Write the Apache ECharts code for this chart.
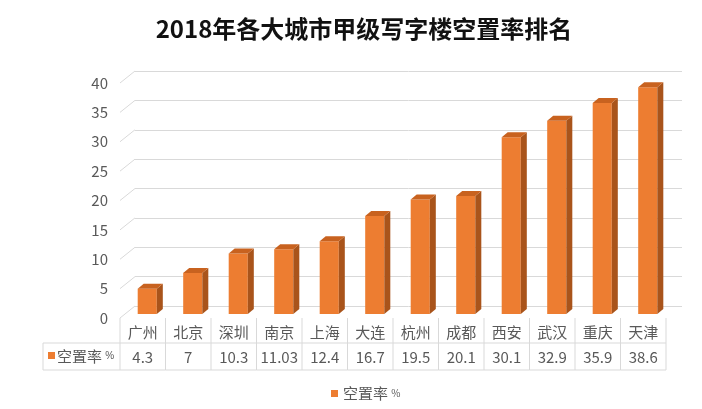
<!DOCTYPE html>
<html>
<head>
<meta charset="utf-8">
<script src="https://cdn.jsdelivr.net/npm/echarts@6/dist/echarts.min.js"></script>
<style>
  html, body { margin: 0; padding: 0; background: #fff; }
  #main { width: 702px; height: 409px; }
</style>
</head>
<body>
<div id="main"></div>
<script>
// 城市
const categories = ['广州', '北京', '深圳', '南京', '上海', '大连', '杭州', '成都', '西安', '武汉', '重庆', '天津'];
// 空置率 %
const values = [4.3, 7, 10.3, 11.03, 12.4, 16.7, 19.5, 20.1, 30.1, 32.9, 35.9, 38.6];
const valueLabels = ['4.3', '7', '10.3', '11.03', '12.4', '16.7', '19.5', '20.1', '30.1', '32.9', '35.9', '38.6'];
const yTicks = [0, 5, 10, 15, 20, 25, 30, 35, 40];
const seriesName = '空置率 %';

const FONT = '"Noto Sans CJK SC", "Noto Sans", sans-serif';
const GRAY = '#595959';
const LINE = '#d9d9d9';
const FRONT = '#ED7D31', SIDE = '#A9541B', TOP = '#C8621F';

const chart = echarts.init(document.getElementById('main'));

function hiddenAxisCat(i) {
  return { type: 'category', gridIndex: i, data: categories, show: false };
}
function hiddenAxisVal(i, split) {
  return {
    type: 'value', gridIndex: i, min: 0, max: 40, interval: 5,
    axisLine: { show: false }, axisTick: { show: false }, axisLabel: { show: false },
    splitLine: { show: split, lineStyle: { color: LINE, width: 1 } }
  };
}

const option = {
  animation: false,
  textStyle: { fontFamily: FONT },
  title: {
    text: '2018年各大城市甲级写字楼空置率排名',
    left: 359, textAlign: 'center', top: 12,
    textStyle: { fontSize: 24, fontWeight: 'bold', color: '#111', fontFamily: FONT }
  },
  legend: {
    data: [seriesName],
    left: 326, top: 381,
    icon: 'rect', itemWidth: 7, itemHeight: 7, itemGap: 4,
    formatter: () => '空置率 {p|%}',
    textStyle: { color: GRAY, fontSize: 15, fontFamily: FONT, rich: { p: { fontSize: 10, color: GRAY } } }
  },
  grid: [
    // 前平面（刻度标签、表格）
    { left: 120, top: 83, width: 546, height: 235 },
    // 后墙（网格线）
    { left: 135, top: 71, width: 547, height: 235 },
    // 柱子所在平面
    { left: 124.5, top: 79, width: 546, height: 235 }
  ],
  xAxis: [
    {
      type: 'category', gridIndex: 0, data: categories,
      axisLine: { show: false }, axisTick: { show: false },
      axisLabel: { color: GRAY, fontSize: 15, margin: 7, fontFamily: FONT }
    },
    hiddenAxisCat(1),
    hiddenAxisCat(2)
  ],
  yAxis: [
    {
      type: 'value', gridIndex: 0, min: 0, max: 40, interval: 5,
      axisLine: { show: false }, axisTick: { show: false }, splitLine: { show: false },
      axisLabel: { color: GRAY, fontSize: 15, margin: 12, fontFamily: FONT }
    },
    hiddenAxisVal(1, true),
    hiddenAxisVal(2, false)
  ],
  series: [
    {
      // 左侧斜线
      type: 'custom', xAxisIndex: 0, yAxisIndex: 0, clip: false, silent: true,
      legendHoverLink: false,
      data: yTicks.map(v => [0, v]),
      renderItem: function (params, api) {
        const p = api.coord([0, api.value(1)]);
        const left = p[0] - api.size([1, 0])[0] / 2;
        return {
          type: 'line',
          shape: { x1: left, y1: p[1], x2: left + 15, y2: p[1] - 12 },
          style: { stroke: LINE, lineWidth: 1 }
        };
      }
    },
    {
      // 数据表
      type: 'custom', xAxisIndex: 0, yAxisIndex: 0, clip: false, silent: true,
      data: values.map((v, i) => [i, 0]),
      renderItem: function (params, api) {
        const i = api.value(0);
        const p = api.coord([i, 0]);
        const bw = api.size([1, 0])[0];
        const l = p[0] - bw / 2, r = p[0] + bw / 2;
        const y0 = p[1], y1 = p[1] + 25, y2 = p[1] + 52;
        const ls = { stroke: LINE, lineWidth: 1 };
        const children = [
          { type: 'line', shape: { x1: r, y1: y0, x2: r, y2: y2 }, style: ls },
          { type: 'line', shape: { x1: l, y1: y1, x2: r, y2: y1 }, style: ls },
          { type: 'line', shape: { x1: l, y1: y2, x2: r, y2: y2 }, style: ls },
          {
            type: 'text',
            style: {
              text: valueLabels[i], x: p[0], y: (y1 + y2) / 2 + 1,
              align: 'center', verticalAlign: 'middle',
              fill: GRAY, font: '15px ' + FONT
            }
          }
        ];
        if (i === 0) {
          const hl = l - 77;
          children.push(
            { type: 'line', shape: { x1: l, y1: y0, x2: l, y2: y2 }, style: ls },
            { type: 'line', shape: { x1: hl, y1: y1, x2: l, y2: y1 }, style: ls },
            { type: 'line', shape: { x1: hl, y1: y2, x2: l, y2: y2 }, style: ls },
            { type: 'line', shape: { x1: hl, y1: y1, x2: hl, y2: y2 }, style: ls },
            { type: 'rect', shape: { x: hl + 5, y: (y1 + y2) / 2 - 4.5, width: 7, height: 7 }, style: { fill: FRONT } },
            {
              type: 'text',
              style: {
                text: '空置率 {p|%}', x: hl + 14, y: (y1 + y2) / 2,
                align: 'left', verticalAlign: 'middle',
                fill: GRAY, font: '15px ' + FONT,
                rich: { p: { fontSize: 10, fill: GRAY } }
              }
            }
          );
        }
        return { type: 'group', children: children };
      }
    },
    {
      // 3D 柱子
      name: seriesName,
      type: 'custom', xAxisIndex: 2, yAxisIndex: 2, clip: false,
      itemStyle: { color: FRONT },
      encode: { x: 0, y: 1 },
      data: values.map((v, i) => [i, v]),
      renderItem: function (params, api) {
        const base = api.coord([api.value(0), 0]);
        const top = api.coord([api.value(0), api.value(1)]);
        const w = api.size([1, 0])[0] * 0.42;
        const x = base[0] - w / 2;
        const dx = 6, dy = 5;
        return {
          type: 'group',
          children: [
            { type: 'rect', shape: { x: x, y: top[1], width: w, height: base[1] - top[1] }, style: { fill: FRONT } },
            {
              type: 'polygon',
              shape: { points: [[x + w, top[1]], [x + w + dx, top[1] - dy], [x + w + dx, base[1] - dy], [x + w, base[1]]] },
              style: { fill: SIDE }
            },
            {
              type: 'polygon',
              shape: { points: [[x, top[1]], [x + dx, top[1] - dy], [x + w + dx, top[1] - dy], [x + w, top[1]]] },
              style: { fill: TOP }
            }
          ]
        };
      }
    }
  ]
};

chart.setOption(option);
</script>
</body>
</html>
